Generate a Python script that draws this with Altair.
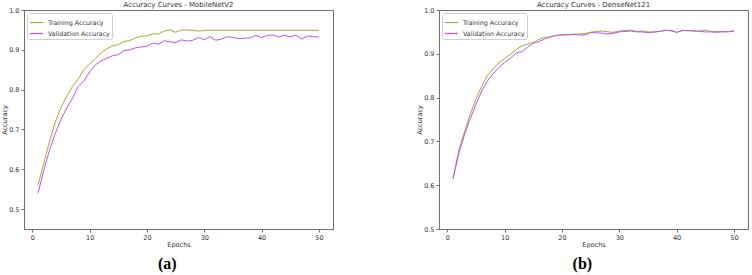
import altair as alt
import pandas as pd

epochs = list(range(1, 51))
series_names = ["Training Accuracy", "Validation Accuracy"]
series_colors = ["#a8a830", "#c050f5"]

mob_train = [0.56, 0.615, 0.67, 0.718, 0.755, 0.783, 0.808, 0.826, 0.85, 0.865,
             0.878, 0.892, 0.903, 0.91, 0.913, 0.921, 0.923, 0.93, 0.934, 0.935,
             0.94, 0.94, 0.947, 0.95, 0.944, 0.95, 0.95, 0.949, 0.947, 0.949,
             0.949, 0.949, 0.949, 0.949, 0.949, 0.949, 0.949, 0.949, 0.949, 0.949,
             0.949, 0.949, 0.949, 0.949, 0.949, 0.949, 0.949, 0.949, 0.949, 0.949]
mob_val = [0.54, 0.597, 0.648, 0.69, 0.725, 0.754, 0.778, 0.808, 0.822, 0.845,
           0.862, 0.872, 0.879, 0.885, 0.888, 0.898, 0.9, 0.905, 0.907, 0.909,
           0.917, 0.914, 0.923, 0.92, 0.918, 0.925, 0.922, 0.924, 0.931, 0.925,
           0.933, 0.924, 0.927, 0.933, 0.931, 0.928, 0.929, 0.93, 0.936, 0.931,
           0.936, 0.937, 0.932, 0.937, 0.932, 0.937, 0.927, 0.935, 0.933, 0.932]
dense_train = [0.615, 0.68, 0.722, 0.762, 0.797, 0.826, 0.85, 0.866, 0.879, 0.889,
               0.899, 0.909, 0.918, 0.922, 0.926, 0.933, 0.938, 0.938, 0.942, 0.943,
               0.943, 0.944, 0.945, 0.946, 0.949, 0.951, 0.952, 0.95, 0.949, 0.952,
               0.953, 0.954, 0.951, 0.952, 0.95, 0.949, 0.951, 0.954, 0.952, 0.949,
               0.953, 0.953, 0.952, 0.952, 0.954, 0.951, 0.951, 0.951, 0.951, 0.953]
dense_val = [0.615, 0.672, 0.715, 0.752, 0.785, 0.815, 0.838, 0.855, 0.869, 0.88,
             0.89, 0.902, 0.905, 0.915, 0.924, 0.928, 0.934, 0.939, 0.942, 0.943,
             0.944, 0.945, 0.943, 0.943, 0.949, 0.948, 0.947, 0.945, 0.947, 0.95,
             0.951, 0.952, 0.95, 0.95, 0.948, 0.95, 0.951, 0.953, 0.954, 0.949,
             0.953, 0.953, 0.952, 0.951, 0.95, 0.95, 0.949, 0.95, 0.95, 0.952]

x_ticks = [0, 10, 20, 30, 40, 50]
FONT = "DejaVu Sans"


def panel(train, val, title, ydom, yticks, label):
    df = pd.DataFrame({
        "Epoch": epochs + epochs,
        "Accuracy": train + val,
        "Series": [series_names[0]] * len(epochs) + [series_names[1]] * len(epochs),
    })
    lines = alt.Chart(df).mark_line(strokeWidth=1, clip=True).encode(
        x=alt.X("Epoch:Q",
                scale=alt.Scale(domain=[-1.45, 52.45], nice=False, zero=False),
                axis=alt.Axis(values=x_ticks, title="Epochs")),
        y=alt.Y("Accuracy:Q",
                scale=alt.Scale(domain=ydom, nice=False, zero=False),
                axis=alt.Axis(values=yticks, format=".1f", title="Accuracy")),
        color=alt.Color("Series:N",
                        scale=alt.Scale(domain=series_names, range=series_colors),
                        legend=alt.Legend(title=None, orient="top-left", offset=3,
                                          symbolType="stroke", symbolSize=169,
                                          symbolStrokeWidth=1.2, labelFontSize=6.3,
                                          labelFont=FONT, labelColor="#333333",
                                          labelOffset=4, rowPadding=-4, padding=2,
                                          fillColor="white", strokeColor="#d0d0d0",
                                          cornerRadius=2)),
    ).properties(width=309, height=219,
                 title=alt.TitleParams(title, fontSize=7, font=FONT,
                                       fontWeight="normal", color="#333333", offset=-1))
    return alt.vconcat(lines, title=alt.TitleParams(label, orient="bottom", anchor="middle",
                                                    font="Liberation Serif", fontSize=16,
                                                    fontWeight="bold", color="black",
                                                    offset=7))


left = panel(mob_train, mob_val, "Accuracy Curves - MobileNetV2", [0.45, 1.0],
             [0.5, 0.6, 0.7, 0.8, 0.9, 1.0], "(a)")
right = panel(dense_train, dense_val, "Accuracy Curves - DenseNet121", [0.5, 1.0],
              [0.5, 0.6, 0.7, 0.8, 0.9, 1.0], "(b)")

chart = alt.hconcat(left, right, spacing=82).resolve_scale(
    color="independent", x="independent", y="independent"
).resolve_legend(color="independent").properties(
    padding={"left": 1, "top": 0, "right": 2, "bottom": 2},
    background="white"
).configure_view(stroke="#707070", strokeWidth=1).configure_axis(
    grid=False, domainColor="#707070", tickColor="#707070", tickSize=3,
    labelFontSize=6.5, labelFont=FONT, labelColor="#333333", labelPadding=2,
    titleFontSize=6.5, titleFont=FONT, titleFontWeight="normal", titleColor="#333333",
    titlePadding=1
)

chart.save("out.html", embed_options={"renderer": "svg", "actions": False})
